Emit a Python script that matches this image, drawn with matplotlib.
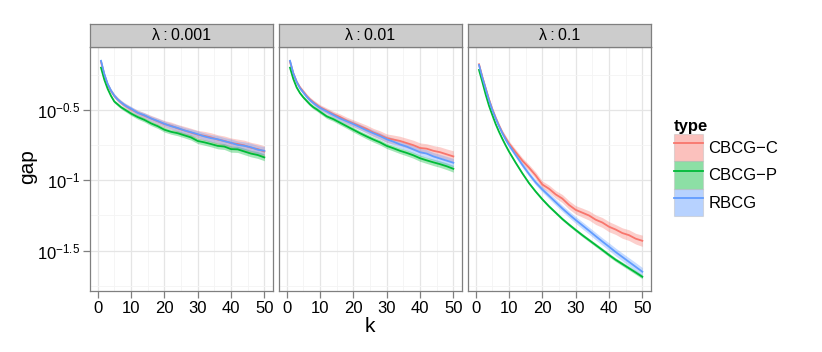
import numpy as np
import matplotlib
matplotlib.use("Agg")
import matplotlib.pyplot as plt
from matplotlib.patches import Patch
from matplotlib.lines import Line2D
from matplotlib.legend_handler import HandlerTuple

plt.rcParams['font.family'] = ['Liberation Sans', 'DejaVu Sans']
plt.rcParams['mathtext.fontset'] = 'custom'
plt.rcParams['mathtext.rm'] = 'Liberation Sans'
plt.rcParams['mathtext.it'] = 'Liberation Sans:italic'

# iteration k
k = [1, 2, 3, 4, 5, 6, 7, 8, 9, 10, 12, 14, 16, 18, 20, 22, 24, 26, 28, 30,
     32, 34, 36, 38, 40, 42, 44, 46, 48, 50]

panels = ['λ\u2009:\u20090.001', 'λ\u2009:\u20090.01', 'λ\u2009:\u20090.1']
types = ['CBCG\u2212C', 'CBCG\u2212P', 'RBCG']
colors = ['#F8766D', '#00BA38', '#619CFF']

# log10(gap), lambda = 0.001
l1_cbcgc = [-0.157, -0.25, -0.32, -0.365, -0.40, -0.425, -0.447, -0.465, -0.48, -0.495,
            -0.52, -0.54, -0.56, -0.58, -0.60, -0.612, -0.63, -0.645, -0.66, -0.675,
            -0.684, -0.695, -0.71, -0.72, -0.735, -0.742, -0.752, -0.768, -0.778, -0.795]
l1_cbcgp = [-0.199, -0.285, -0.35, -0.40, -0.44, -0.46, -0.48, -0.495, -0.51, -0.525,
            -0.55, -0.57, -0.595, -0.615, -0.64, -0.655, -0.665, -0.68, -0.695, -0.72,
            -0.73, -0.742, -0.755, -0.76, -0.778, -0.78, -0.795, -0.81, -0.82, -0.837]
l1_rbcg = [-0.150, -0.245, -0.315, -0.362, -0.398, -0.425, -0.445, -0.463, -0.478, -0.49,
           -0.52, -0.537, -0.56, -0.578, -0.598, -0.615, -0.628, -0.645, -0.658, -0.672,
           -0.688, -0.70, -0.708, -0.722, -0.733, -0.748, -0.755, -0.765, -0.782, -0.79]

# log10(gap), lambda = 0.01
l2_cbcgc = [-0.157, -0.24, -0.30, -0.34, -0.37, -0.40, -0.425, -0.445, -0.463, -0.48,
            -0.505, -0.53, -0.55, -0.575, -0.595, -0.615, -0.635, -0.66, -0.678, -0.70,
            -0.71, -0.72, -0.735, -0.75, -0.77, -0.775, -0.79, -0.80, -0.815, -0.83]
l2_cbcgp = [-0.199, -0.28, -0.34, -0.38, -0.41, -0.435, -0.46, -0.48, -0.495, -0.512,
            -0.545, -0.565, -0.59, -0.615, -0.64, -0.665, -0.688, -0.71, -0.73, -0.755,
            -0.772, -0.79, -0.805, -0.822, -0.843, -0.858, -0.872, -0.885, -0.90, -0.918]
l2_rbcg = [-0.150, -0.24, -0.30, -0.345, -0.375, -0.405, -0.43, -0.45, -0.468, -0.485,
           -0.51, -0.535, -0.56, -0.58, -0.60, -0.622, -0.645, -0.665, -0.685, -0.708,
           -0.725, -0.745, -0.76, -0.78, -0.80, -0.81, -0.83, -0.845, -0.86, -0.875]

# log10(gap), lambda = 0.1
l3_cbcgc = [-0.175, -0.265, -0.345, -0.425, -0.495, -0.555, -0.61, -0.66, -0.70, -0.738,
            -0.80, -0.86, -0.91, -0.965, -1.03, -1.06, -1.10, -1.13, -1.175, -1.21,
            -1.23, -1.25, -1.28, -1.30, -1.33, -1.35, -1.375, -1.39, -1.415, -1.43]
l3_cbcgp = [-0.215, -0.30, -0.39, -0.47, -0.536, -0.60, -0.655, -0.705, -0.752, -0.796,
            -0.875, -0.95, -1.02, -1.08, -1.135, -1.185, -1.23, -1.275, -1.315, -1.353,
            -1.39, -1.425, -1.46, -1.495, -1.531, -1.565, -1.595, -1.625, -1.655, -1.686]
l3_rbcg = [-0.180, -0.27, -0.35, -0.43, -0.50, -0.56, -0.615, -0.665, -0.71, -0.75,
           -0.82, -0.89, -0.955, -1.015, -1.065, -1.11, -1.155, -1.20, -1.242, -1.282,
           -1.32, -1.358, -1.397, -1.435, -1.472, -1.51, -1.545, -1.58, -1.615, -1.65]

# ribbon half-widths (log10 units)
hw_cbcgc = [0.012, 0.012, 0.013, 0.014, 0.015, 0.016, 0.016, 0.017, 0.018, 0.018,
            0.02, 0.021, 0.022, 0.024, 0.025, 0.026, 0.027, 0.029, 0.03, 0.03,
            0.032, 0.033, 0.034, 0.035, 0.036, 0.035, 0.037, 0.038, 0.038, 0.04]
hw_cbcgp = [0.008, 0.009, 0.01, 0.01, 0.011, 0.012, 0.012, 0.013, 0.013, 0.014,
            0.015, 0.015, 0.016, 0.016, 0.017, 0.017, 0.018, 0.018, 0.019, 0.019,
            0.02, 0.02, 0.021, 0.021, 0.022, 0.022, 0.023, 0.023, 0.024, 0.024]
hw_rbcg = [0.012, 0.012, 0.013, 0.013, 0.014, 0.014, 0.015, 0.015, 0.016, 0.016,
           0.017, 0.018, 0.018, 0.019, 0.02, 0.021, 0.022, 0.022, 0.023, 0.024,
           0.025, 0.025, 0.026, 0.026, 0.027, 0.028, 0.028, 0.029, 0.03, 0.03]

series = [[l1_cbcgc, l1_cbcgp, l1_rbcg],
          [l2_cbcgc, l2_cbcgp, l2_rbcg],
          [l3_cbcgc, l3_cbcgp, l3_rbcg]]
widths = [hw_cbcgc, hw_cbcgp, hw_rbcg]

fig = plt.figure(figsize=(8.22, 3.52), dpi=100)
W, H = 822.0, 352.0
lefts = [90, 279, 468]
pw = 183
top, bot, strip_top = 47, 291, 24

for p in range(3):
    ax = fig.add_axes([lefts[p] / W, 1 - bot / H, pw / W, (bot - top) / H])
    ax.set_yscale('log')
    ax.set_xlim(-2.3, 52.6)
    ax.set_ylim(10 ** -1.787, 10 ** -0.052)
    ax.set_xticks([0, 10, 20, 30, 40, 50])
    ax.set_xticks([5, 15, 25, 35, 45], minor=True)
    ax.set_yticks([10 ** -1.5, 10 ** -1.0, 10 ** -0.5])
    ax.set_yticks([10 ** -1.75, 10 ** -1.25, 10 ** -0.75, 10 ** -0.25], minor=True)
    ax.set_yticklabels([r'$10^{-1.5}$', r'$10^{-1}$', r'$10^{-0.5}$'])
    ax.set_yticklabels([], minor=True)
    ax.set_axisbelow(True)
    ax.grid(which='major', color='#E5E5E5', lw=0.9)
    ax.grid(which='minor', color='#F4F4F4', lw=0.6)
    for s in ax.spines.values():
        s.set_color('#7F7F7F')
        s.set_linewidth(0.9)
    ax.tick_params(which='major', color='#7F7F7F', length=5, width=0.9,
                   labelsize=12, pad=2)
    ax.tick_params(which='minor', length=0)
    if p > 0:
        ax.tick_params(axis='y', which='both', left=False, labelleft=False)

    for i in range(3):
        m = np.array(series[p][i])
        hw = np.array(widths[i])
        if p == 2 and i == 1:
            hw = hw * 0.6
        ax.fill_between(k, 10 ** (m - hw), 10 ** (m + hw), color=colors[i],
                        alpha=0.35, lw=0)
    for i in range(3):
        ax.plot(k, 10 ** np.array(series[p][i]), color=colors[i], lw=1.3)

    sax = fig.add_axes([lefts[p] / W, 1 - top / H, pw / W, (top - strip_top) / H])
    sax.set_facecolor('#CCCCCC')
    sax.set_xticks([])
    sax.set_yticks([])
    for s in sax.spines.values():
        s.set_color('#7F7F7F')
        s.set_linewidth(0.9)
    sax.text(0.5, 0.5, panels[p], ha='center', va='center', fontsize=11.5,
             transform=sax.transAxes)

fig.text(28 / W, 1 - 167 / H, 'gap', rotation=90, ha='center', va='center', fontsize=15)
fig.text(370 / W, 1 - 327 / H, 'k', ha='center', va='center', fontsize=15)

handles = [(Patch(facecolor=c, alpha=0.45, edgecolor='#BBBBBB', lw=0.8),
            Line2D([], [], color=c, lw=1.3)) for c in colors]
leg = fig.legend(handles, types, loc='upper left', bbox_to_anchor=(674 / W, 1 - 119 / H),
                 frameon=False, fontsize=12, title='type',
                 title_fontproperties={'weight': 'bold', 'size': 12},
                 handler_map={tuple: HandlerTuple(ndivide=1)},
                 handlelength=1.75, handleheight=2.15, labelspacing=0.0, handletextpad=0.3,
                 borderaxespad=0, borderpad=0)
leg._legend_box.align = 'left'

fig.savefig('out.png', dpi=100)
